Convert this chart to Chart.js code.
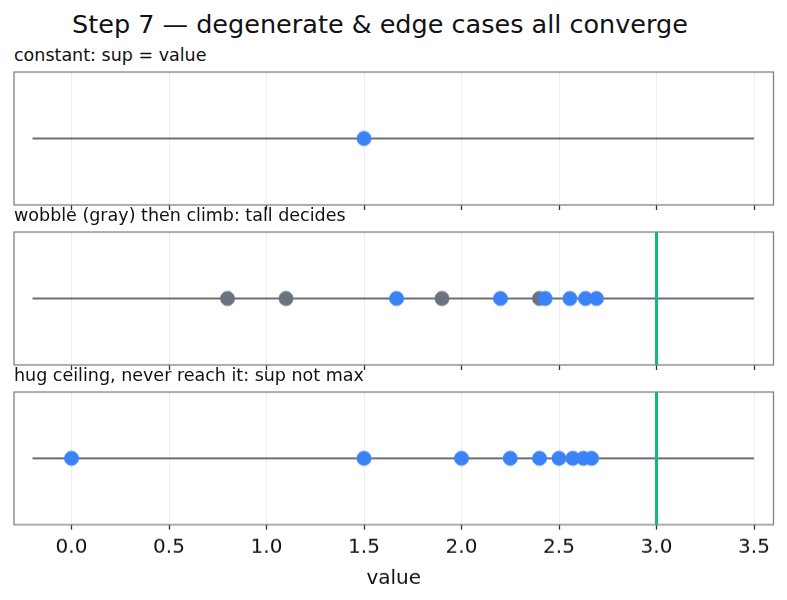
<!DOCTYPE html>
<html>
<head>
<meta charset="utf-8">
<script src="https://cdn.jsdelivr.net/npm/chart.js@4.4.1/dist/chart.umd.min.js"></script>
<style>
  body { margin: 0; background: #fff; }
  #wrap { position: relative; width: 787px; height: 600px; font-family: "DejaVu Sans", sans-serif; color: #111; }
  .txt { position: absolute; white-space: nowrap; line-height: 1; }
  canvas { position: absolute; left: 0; }
</style>
</head>
<body>
<div id="wrap">
  <div class="txt" id="mainTitle" style="left:0; width:760px; text-align:center; top:11.5px; font-size:25.5px;"></div>
</div>
<script>
// shared x axis
const xTicks = [0, 0.5, 1, 1.5, 2, 2.5, 3, 3.5]
const xMin = -0.295
const xMax = 3.6
const baseLine = [-0.2, 3.5]
const ceiling = 3.0

// panel 1
const constantBlue = [1.5]
// panel 2
const wobbleGray = [0.8, 1.1, 1.9, 2.4]
const climbBlue = [1.667, 2.2, 2.429, 2.556, 2.636, 2.692]
// panel 3
const hugBlue = [0, 1.5, 2.0, 2.25, 2.4, 2.5, 2.571, 2.625, 2.667]

const mainTitle = 'Step 7 \u2014 degenerate & edge cases all converge'
const panelTitles = [
    'constant: sup = value',
    'wobble (gray) then climb: tall decides',
    'hug ceiling, never reach it: sup not max'
]
const xLabel = 'value'

const panels = [
    { title: panelTitles[0], gray: [], blue: constantBlue, ceiling: null, top: 72, labels: false },
    { title: panelTitles[1], gray: wobbleGray, blue: climbBlue, ceiling: ceiling, top: 232, labels: false },
    { title: panelTitles[2], gray: [], blue: hugBlue, ceiling: ceiling, top: 392, labels: true }
]

const BLUE = '#3b82f6'
const GRAY = '#6b7280'
const GREEN = '#10b981'
const PANEL_H = 132.5
const PAD_TOP = 4

document.getElementById('mainTitle').textContent = mainTitle

// matplotlib-style frame round each panel
const boxPlugin = {
    id: 'box',
    afterDatasetsDraw(chart) {
        const a = chart.chartArea
        const ctx = chart.ctx
        ctx.save()
        ctx.strokeStyle = '#808080'
        ctx.lineWidth = 1.3
        ctx.strokeRect(a.left, a.top, a.right - a.left, a.bottom - a.top)
        ctx.restore()
    }
}

const wrap = document.getElementById('wrap')

panels.forEach(p => {
    const sub = document.createElement('div')
    sub.className = 'txt'
    sub.style.left = '14px'
    sub.style.top = (p.top - 25.3) + 'px'
    sub.style.fontSize = '17.5px'
    sub.textContent = p.title
    wrap.appendChild(sub)

    const axisH = p.labels ? 76 : 12
    const h = PAD_TOP + PANEL_H + axisH
    const canvas = document.createElement('canvas')
    canvas.width = 787
    canvas.height = h
    canvas.style.top = (p.top - PAD_TOP) + 'px'
    canvas.style.width = '787px'
    canvas.style.height = h + 'px'
    wrap.appendChild(canvas)

    const datasets = [
        {
            data: p.blue.map(v => ({ x: v, y: 0 })),
            backgroundColor: BLUE,
            borderColor: BLUE,
            borderWidth: 1,
            pointRadius: 7,
            order: 0
        },
        {
            data: p.gray.map(v => ({ x: v, y: 0 })),
            backgroundColor: GRAY,
            borderColor: GRAY,
            borderWidth: 1,
            pointRadius: 7,
            order: 1
        },
        {
            data: baseLine.map(v => ({ x: v, y: 0 })),
            showLine: true,
            borderColor: '#6b6e72',
            borderWidth: 1.8,
            pointRadius: 0,
            order: 3
        }
    ]
    if (p.ceiling !== null) {
        datasets.push({
            data: [{ x: p.ceiling, y: -1 }, { x: p.ceiling, y: 1 }],
            showLine: true,
            borderColor: GREEN,
            borderWidth: 3,
            pointRadius: 0,
            order: 2
        })
    }

    new Chart(canvas, {
        type: 'scatter',
        data: { datasets: datasets },
        plugins: [boxPlugin],
        options: {
            responsive: false,
            animation: false,
            devicePixelRatio: 1,
            layout: { autoPadding: false, padding: { left: 14, right: 13.5, top: PAD_TOP, bottom: 0 } },
            plugins: { legend: { display: false }, tooltip: { enabled: false } },
            scales: {
                x: {
                    type: 'linear',
                    min: xMin,
                    max: xMax,
                    afterBuildTicks: s => { s.ticks = xTicks.map(v => ({ value: v })) },
                    afterFit: s => { s.height = axisH },
                    border: { display: false },
                    grid: {
                        color: '#eceef1',
                        lineWidth: 1,
                        tickColor: '#333',
                        tickLength: 5,
                        tickWidth: 1.3
                    },
                    ticks: {
                        display: p.labels,
                        color: '#111',
                        font: { family: 'DejaVu Sans', size: 20 },
                        padding: 6,
                        maxRotation: 0,
                        callback: v => v.toFixed(1)
                    },
                    title: {
                        display: p.labels,
                        text: xLabel,
                        color: '#111',
                        font: { family: 'DejaVu Sans', size: 20 },
                        padding: { top: 2, bottom: 10 }
                    }
                },
                y: {
                    display: false,
                    min: -1,
                    max: 1
                }
            }
        }
    })
})
</script>
</body>
</html>
